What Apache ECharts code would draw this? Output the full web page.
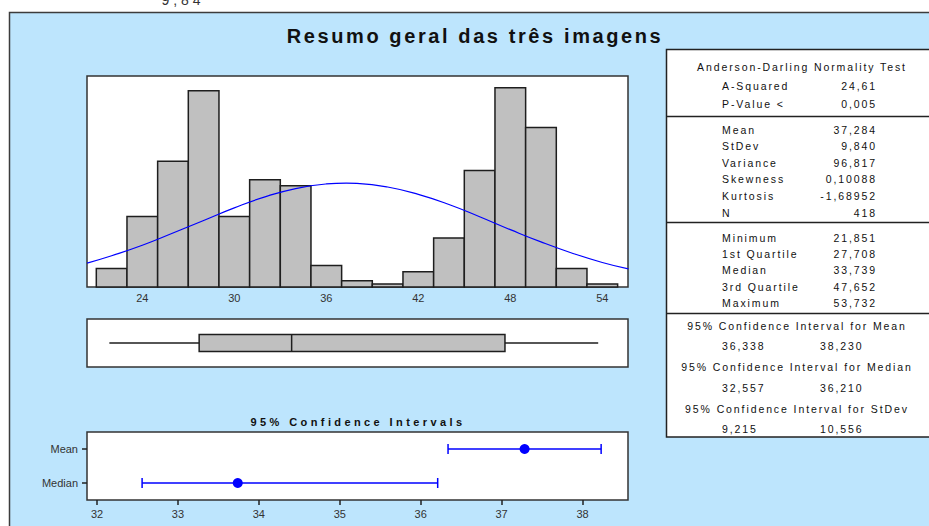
<!DOCTYPE html>
<html>
<head>
<meta charset="utf-8">
<script src="https://cdn.jsdelivr.net/npm/echarts@6/dist/echarts.min.js"></script>
<style>
  html, body { margin: 0; padding: 0; background: #fff; }
  #chart { width: 929px; height: 526px; }
  /* Minitab spaces its letters out; matched on the font string of each text */
  #chart text[style*="bold 20px"] { letter-spacing: 2.6px; }
  #chart text[style*="bold 11px"] { letter-spacing: 3.4px; }
  #chart text[style*="10.5px"] { letter-spacing: 1.9px; }
  #chart text[style*="14px"] { letter-spacing: 4px; }
</style>
</head>
<body>
<div id="chart"></div>
<script>
// histogram (bin width 2)
var binStart = [21, 23, 25, 27, 29, 31, 33, 35, 37, 39, 41, 43, 45, 47, 49, 51, 53];
var binCounts = [6, 23, 41, 64, 23, 35, 33, 7, 2, 1, 5, 16, 38, 65, 52, 6, 1];
var binWidth = 2;
var histTicks = [24, 30, 36, 42, 48, 54];

// fitted normal curve (in counts)
var curveX = [20.4, 22, 24, 26, 28, 30, 32, 34, 36, 37.3, 38, 40, 42, 44, 46, 48, 50, 52, 54, 55.7];
var curveY = [7.8, 10.2, 13.6, 17.6, 21.7, 25.8, 29.4, 32.1, 33.6, 33.9, 33.8, 32.6, 30.2, 26.9, 22.9, 18.7, 14.7, 11.1, 8.0, 5.9];

// min, Q1, median, Q3, max
var boxStats = [21.851, 27.708, 33.739, 47.652, 53.732];

// 95% confidence intervals
var ciCats = ['Median', 'Mean'];
var ciLow = [32.557, 36.338];
var ciCenter = [33.739, 37.284];
var ciHigh = [36.210, 38.230];
var ciTicks = [32, 33, 34, 35, 36, 37, 38];

// summary table
var adLabels = ['A-Squared', 'P-Value <'];
var adValues = ['24,61', '0,005'];
var descLabels = ['Mean', 'StDev', 'Variance', 'Skewness', 'Kurtosis', 'N'];
var descValues = ['37,284', '9,840', '96,817', '0,10088', '-1,68952', '418'];
var quartLabels = ['Minimum', '1st Quartile', 'Median', '3rd Quartile', 'Maximum'];
var quartValues = ['21,851', '27,708', '33,739', '47,652', '53,732'];
var ciHeaders = ['95% Confidence Interval for Mean', '95% Confidence Interval for Median', '95% Confidence Interval for StDev'];
var ciLowText = ['36,338', '32,557', '9,215'];
var ciHighText = ['38,230', '36,210', '10,556'];

var chart = echarts.init(document.getElementById('chart'), null, { renderer: 'svg' });

var tableFont = '10.5px Liberation Sans';
var ink = '#111';

function txt(x, y, s, align, font) {
  return {
    type: 'text', x: x, y: y, z: 20,
    style: { text: s, font: font || tableFont, fill: ink, align: align || 'left', verticalAlign: 'middle' }
  };
}

function hline(y) {
  return {
    type: 'line', z: 20,
    shape: { x1: 666, y1: y, x2: 940, y2: y },
    style: { stroke: '#222', lineWidth: 1.5 }
  };
}

var graphics = [
  { type: 'rect', zlevel: -1, shape: { x: 9.5, y: 12.5, width: 940, height: 540 },
    style: { fill: '#bde5fd', stroke: '#3c3c3c', lineWidth: 1.5 } },
  { type: 'text', x: 183, y: 6.5, style: { text: '9,84', font: '14px Liberation Sans', fill: '#333', align: 'center', verticalAlign: 'bottom' } },
  { type: 'text', x: 475, y: 36, style: { text: 'Resumo geral das três imagens', font: 'bold 20px Liberation Sans', fill: ink, align: 'center', verticalAlign: 'middle' } },
  { type: 'text', x: 358, y: 421.5, style: { text: '95% Confidence Intervals', font: 'bold 11px Liberation Sans', fill: ink, align: 'center', verticalAlign: 'middle' } },
  { type: 'rect', z: 10, shape: { x: 666.5, y: 49.5, width: 300, height: 387.5 },
    style: { fill: '#fff', stroke: '#222', lineWidth: 1.5 } },
  hline(116.5), hline(222.5), hline(313.5),
  txt(802, 66.5, 'Anderson-Darling Normality Test', 'center')
];

var labelX = 722, valueX = 877;
adLabels.forEach(function (l, i) {
  graphics.push(txt(labelX, 86 + i * 17.5, l), txt(valueX, 86 + i * 17.5, adValues[i], 'right'));
});
descLabels.forEach(function (l, i) {
  graphics.push(txt(labelX, 129.5 + i * 16.6, l), txt(valueX, 129.5 + i * 16.6, descValues[i], 'right'));
});
quartLabels.forEach(function (l, i) {
  graphics.push(txt(labelX, 238 + i * 16.2, l), txt(valueX, 238 + i * 16.2, quartValues[i], 'right'));
});
ciHeaders.forEach(function (h, i) {
  var y = 325.5 + i * 41.5;
  graphics.push(txt(797, y, h, 'center'), txt(labelX, y + 20.5, ciLowText[i]), txt(820, y + 20.5, ciHighText[i]));
});

function renderBar(params, api) {
  var p0 = api.coord([api.value(0), 0]);
  var p1 = api.coord([api.value(1), api.value(2)]);
  return {
    type: 'rect',
    shape: { x: p0[0], y: p1[1], width: p1[0] - p0[0], height: p0[1] - p1[1] },
    style: { fill: '#c0c0c0', stroke: '#1e1e1e', lineWidth: 1.5 }
  };
}

function renderBox(params, api) {
  var y = api.coord([boxStats[0], 0.5])[1];
  var xs = [0, 1, 2, 3, 4].map(function (d) { return api.coord([api.value(d), 0.5])[0]; });
  var half = 8.5;
  var st = { stroke: '#1e1e1e', lineWidth: 1.5 };
  return {
    type: 'group',
    children: [
      { type: 'line', shape: { x1: xs[0], y1: y, x2: xs[1], y2: y }, style: st },
      { type: 'line', shape: { x1: xs[3], y1: y, x2: xs[4], y2: y }, style: st },
      { type: 'rect', shape: { x: xs[1], y: y - half, width: xs[3] - xs[1], height: half * 2 },
        style: { fill: '#c0c0c0', stroke: '#1e1e1e', lineWidth: 1.5 } },
      { type: 'line', shape: { x1: xs[2], y1: y - half, x2: xs[2], y2: y + half }, style: st }
    ]
  };
}

function renderCI(params, api) {
  var a = api.coord([api.value(0), api.value(2)]);
  var b = api.coord([api.value(1), api.value(2)]);
  var h = 5;
  var st = { stroke: '#0000ff', lineWidth: 1.5 };
  return {
    type: 'group',
    children: [
      { type: 'line', shape: { x1: a[0], y1: a[1], x2: b[0], y2: b[1] }, style: st },
      { type: 'line', shape: { x1: a[0], y1: a[1] - h, x2: a[0], y2: a[1] + h }, style: st },
      { type: 'line', shape: { x1: b[0], y1: b[1] - h, x2: b[0], y2: b[1] + h }, style: st }
    ]
  };
}

var labelStyle = { fontSize: 11, color: '#333', fontFamily: 'Liberation Sans' };
var frame = { show: true, backgroundColor: '#fff', borderColor: '#333', borderWidth: 1.5 };

chart.setOption({
  backgroundColor: '#fff',
  animation: false,
  grid: [
    Object.assign({ left: 87, top: 76, width: 541, height: 211 }, frame),
    Object.assign({ left: 87, top: 319, width: 541, height: 48 }, frame),
    Object.assign({ left: 87, top: 432, width: 541, height: 68 }, frame)
  ],
  xAxis: [
    { gridIndex: 0, type: 'value', min: 20.393, max: 55.676,
      splitLine: { show: false }, axisLine: { show: false }, axisTick: { show: false },
      axisLabel: Object.assign({ customValues: histTicks, margin: 5 }, labelStyle) },
    { gridIndex: 1, type: 'value', min: 20.393, max: 55.676, show: false },
    { gridIndex: 2, type: 'value', min: 31.876, max: 38.562,
      splitLine: { show: false }, axisLine: { show: false },
      axisTick: { show: true, customValues: ciTicks, length: 5, lineStyle: { color: '#222', width: 1.5 } },
      axisLabel: Object.assign({ customValues: ciTicks, margin: 8 }, labelStyle) }
  ],
  yAxis: [
    { gridIndex: 0, type: 'value', min: 0, max: 68.8, show: false },
    { gridIndex: 1, type: 'value', min: 0, max: 1, show: false },
    { gridIndex: 2, type: 'category', data: ciCats,
      axisLine: { show: false },
      axisTick: { show: true, alignWithLabel: true, length: 5, lineStyle: { color: '#222', width: 1.5 } },
      axisLabel: Object.assign({ margin: 9 }, labelStyle) }
  ],
  graphic: graphics,
  series: [
    { type: 'custom', xAxisIndex: 0, yAxisIndex: 0, renderItem: renderBar,
      encode: { x: [0, 1], y: 2 },
      data: binStart.map(function (s, i) { return [s, s + binWidth, binCounts[i]]; }) },
    { type: 'line', xAxisIndex: 0, yAxisIndex: 0, smooth: true, showSymbol: false, z: 5,
      lineStyle: { color: '#0000ff', width: 1.2 },
      data: curveX.map(function (x, i) { return [x, curveY[i]]; }) },
    { type: 'custom', xAxisIndex: 1, yAxisIndex: 1, renderItem: renderBox,
      encode: { x: [0, 1, 2, 3, 4] },
      data: [boxStats] },
    { type: 'custom', xAxisIndex: 2, yAxisIndex: 2, renderItem: renderCI,
      encode: { x: [0, 1], y: 2 },
      data: ciCats.map(function (c, i) { return [ciLow[i], ciHigh[i], i]; }) },
    { type: 'scatter', xAxisIndex: 2, yAxisIndex: 2, symbolSize: 10, z: 5,
      itemStyle: { color: '#0000ff', opacity: 1 },
      data: ciCenter.map(function (v, i) { return [v, i]; }) }
  ]
});
</script>
</body>
</html>
